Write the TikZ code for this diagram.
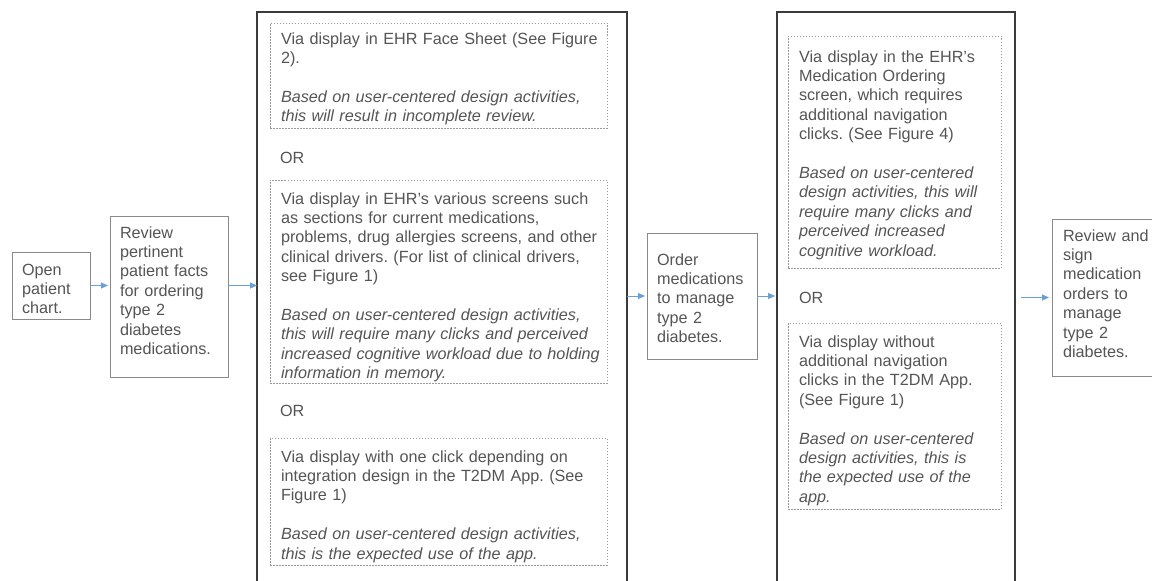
\documentclass[tikz,border=0pt]{standalone}
\usepackage{fontspec}
\setmainfont{Liberation Sans}
\usetikzlibrary{arrows.meta}
\definecolor{txtc}{HTML}{555555}
\definecolor{boxc}{HTML}{8A8A8A}
\definecolor{bigc}{HTML}{3A3A3A}
\definecolor{dotc}{HTML}{9A9A9A}
\definecolor{arrc}{HTML}{6A9FD8}
\frenchspacing
\begin{document}
\begin{tikzpicture}[x=1pt,y=-1pt,
  every node/.style={inner sep=0pt, outer sep=0pt},
  solidbox/.style={draw=boxc, line width=0.9pt, rectangle, anchor=north west},
  bigbox/.style={draw=bigc, line width=1.3pt, rectangle, anchor=north west},
  dotbox/.style={draw=dotc, line width=0.8pt, dash pattern=on 1.5pt off 1.5pt, rectangle, anchor=north west},
  lbl/.style={text=txtc, font=\fontsize{16.2}{19.4}\selectfont, align=left, anchor=base west, text width=345pt},
  conn/.style={draw=arrc, line width=0.9pt, -{Triangle[length=7pt,width=6pt]}, shorten >=2pt}
]
\useasboundingbox (0,0) rectangle (1152,581);
\clip (0,0) rectangle (1152,581);
\fill[white] (0,0) rectangle (1152,581);

% boxes
\node[solidbox, minimum width=78pt, minimum height=67pt] (open) at (12,252) {};
\node[solidbox, minimum width=118pt, minimum height=161pt] (review) at (110,216) {};
\node[bigbox, minimum width=370pt, minimum height=600pt] (big1) at (257,12) {};
\node[dotbox, minimum width=337pt, minimum height=105pt] (d1a) at (270,23) {};
\node[dotbox, minimum width=337pt, minimum height=203pt] (d1b) at (270,180) {};
\node[dotbox, minimum width=337pt, minimum height=127pt] (d1c) at (270,438) {};
\node[solidbox, minimum width=110pt, minimum height=126pt] (order) at (647,233) {};
\node[bigbox, minimum width=238pt, minimum height=600pt] (big2) at (777,12) {};
\node[dotbox, minimum width=213pt, minimum height=232pt] (d2a) at (788,36) {};
\node[dotbox, minimum width=213pt, minimum height=186pt] (d2b) at (788,323) {};
\node[solidbox, minimum width=110pt, minimum height=157pt] (final) at (1052,219) {};

% texts
\node[lbl] (opentxt) at (22,275) {Open\\patient\\chart.};
\node[lbl] (revtxt) at (120,238) {Review\\pertinent\\patient facts\\for ordering\\type 2\\diabetes\\medications.};
\node[lbl] (t1a) at (281,44) {Via display in EHR Face Sheet (See Figure\\2).\\[19.4pt]\itshape Based on user-centered design activities,\\this will result in incomplete review.};
\node[lbl] (or1) at (280,163.5) {OR};
\node[lbl] (t1b) at (281,204) {Via display in EHR’s various screens such\\as sections for current medications,\\problems, drug allergies screens, and other\\clinical drivers. (For list of clinical drivers,\\see Figure 1)\\[19.4pt]\itshape Based on user-centered design activities,\\this will require many clicks and perceived\\increased cognitive workload due to holding\\information in memory.};
\node[lbl] (or2) at (280,416) {OR};
\node[lbl] (t1c) at (281,462) {Via display with one click depending on\\integration design in the T2DM App. (See\\Figure 1)\\[19.4pt]\itshape Based on user-centered design activities,\\this is the expected use of the app.};
\node[lbl] (ordertxt) at (657,265) {Order\\medications\\to manage\\type 2\\diabetes.};
\node[lbl] (t2a) at (799,62) {Via display in the EHR’s\\Medication Ordering\\screen, which requires\\additional navigation\\clicks. (See Figure 4)\\[19.4pt]\itshape Based on user-centered\\design activities, this will\\require many clicks and\\perceived increased\\cognitive workload.};
\node[lbl] (or3) at (799,303.5) {OR};
\node[lbl] (t2b) at (799,347) {Via display without\\additional navigation\\clicks in the T2DM App.\\(See Figure 1)\\[19.4pt]\itshape Based on user-centered\\design activities, this is\\the expected use of the\\app.};
\node[lbl] (finaltxt) at (1063,241) {Review and\\sign\\medication\\orders to\\manage\\type 2\\diabetes.};

% connectors
\draw[conn] (open.east) -- (open.east -| review.west);
\draw[conn, shorten >=0pt] (review.east |- open.east) -- (open.east -| big1.west);
\draw[conn] (order.west -| big1.east) -- (order.west);
\draw[conn] (order.east) -- (order.east -| big2.west);
\draw[conn, shorten <=6pt, shorten >=3pt] (final.west -| big2.east) -- (final.west);
\end{tikzpicture}
\end{document}
